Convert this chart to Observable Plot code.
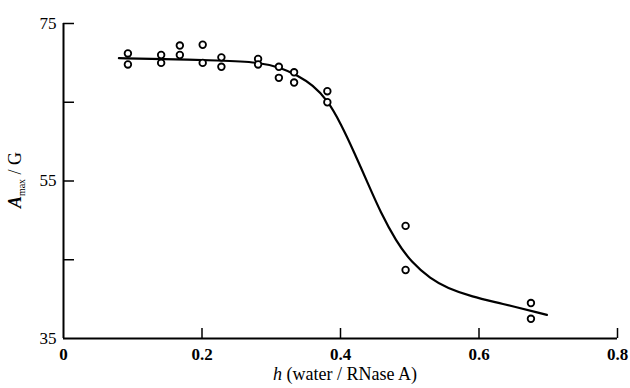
<!DOCTYPE html>
<html><head><meta charset="utf-8">
<script src="https://cdn.jsdelivr.net/npm/d3@7"></script>
<script src="https://cdn.jsdelivr.net/npm/@observablehq/plot@0.6"></script>
<style>body{margin:0;background:#fff}</style>
</head><body><div id="chart"></div>
<script>
// measured points: h (water/RNase A) and A_max (G)
const pointH = [0.093,0.093,0.141,0.141,0.168,0.168,0.201,0.201,0.228,0.228,0.281,0.281,0.311,0.311,0.333,0.333,0.381,0.381,0.494,0.494,0.675,0.675];
const pointA = [71.2,69.8,71.0,70.0,72.2,71.0,72.3,70.0,70.7,69.5,70.5,69.8,69.5,68.1,68.8,67.5,66.4,65.0,49.3,43.7,39.5,37.5];
// fitted curve
const curveH = [0.080,0.141,0.227,0.281,0.314,0.338,0.360,0.381,0.401,0.420,0.440,0.458,0.480,0.503,0.530,0.554,0.590,0.630,0.698];
const curveA = [70.6,70.5,70.3,70.1,69.4,68.4,67.2,65.3,62.2,58.6,54.6,51.0,47.4,44.6,42.6,41.4,40.3,39.5,38.0];
const xTicks = [0,0.2,0.4,0.6,0.8];
const xTickLabels = ["0","0.2","0.4","0.6","0.8"];
const yTicks = [35,45,55,65,75];
const yLabelTicks = [35,55,75];

const points = pointH.map((h,i)=>({h, a: pointA[i]}));
const curve = curveH.map((h,i)=>({h, a: curveA[i]}));
const font = "Liberation Serif";

const chart = Plot.plot({
  width: 630, height: 388,
  marginLeft: 63, marginRight: 13, marginTop: 23, marginBottom: 50,
  style: {fontFamily: font, fontSize: "16px", color: "black", background: "white"},
  x: {domain: [0, 0.8], label: null},
  y: {domain: [35, 75], label: null},
  marks: [
    Plot.axisX({ticks: xTicks.slice(1), tickSize: -10, tickFormat: () => "", label: null, strokeWidth: 1.5}),
    Plot.axisX({ticks: xTicks, tickSize: 0, tickPadding: 9, tickFormat: (d) => xTickLabels[xTicks.indexOf(d)], label: null, fontSize: 17, fontWeight: "bold", fontFamily: font}),
    Plot.axisY({ticks: yTicks.slice(1), tickSize: -11, tickFormat: () => "", label: null, strokeWidth: 1.5}),
    Plot.axisY({ticks: yLabelTicks, tickSize: 0, tickPadding: 7, label: null, fontSize: 17, fontFamily: font}),
    Plot.ruleY([35], {strokeWidth: 2}),
    Plot.ruleX([0], {strokeWidth: 2}),
    Plot.line(curve, {x: "h", y: "a", curve: "basis", strokeWidth: 2.2, stroke: "black"}),
    Plot.dot(points, {x: "h", y: "a", r: 3.3, stroke: "black", strokeWidth: 1.8, fill: "white"})
  ]
});
document.getElementById("chart").appendChild(chart);

const svg = d3.select(chart);
// y-axis title: A_max / G
const yt = svg.append("text")
  .attr("transform", "translate(21,180) rotate(-90)")
  .attr("text-anchor", "middle")
  .attr("font-family", font).attr("font-size", 18).attr("fill", "black");
yt.append("tspan").attr("font-style", "italic").attr("font-weight", "bold").text("A");
yt.append("tspan").attr("font-size", 10).attr("dy", 4).text("max");
yt.append("tspan").attr("dy", -4).text(" / G");
// x-axis title
const xt = svg.append("text")
  .attr("x", 345).attr("y", 380)
  .attr("text-anchor", "middle")
  .attr("font-family", font).attr("font-size", 18).attr("fill", "black");
xt.append("tspan").attr("font-style", "italic").text("h");
xt.append("tspan").text(" (water / RNase A)");
</script>
</body></html>
